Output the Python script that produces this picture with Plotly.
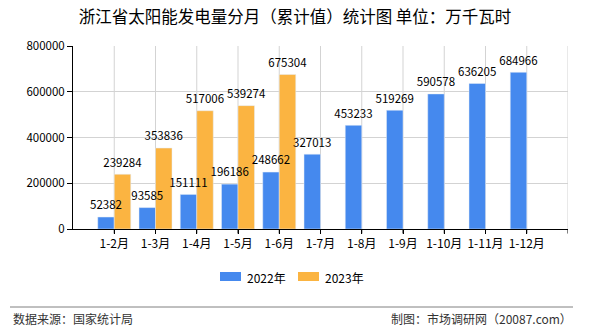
import plotly.graph_objects as go

categories = ["1-2月", "1-3月", "1-4月", "1-5月", "1-6月", "1-7月", "1-8月", "1-9月", "1-10月", "1-11月", "1-12月"]
values_2022 = [52382, 93585, 151111, 196186, 248662, 327013, 453233, 519269, 590578, 636205, 684966]
values_2023 = [239284, 353836, 517006, 539274, 675304]
series_names = ["2022年", "2023年"]
colors = ["#4589EE", "#FBB441"]
y_ticks = [0, 200000, 400000, 600000, 800000]

FONT = "Noto Sans CJK SC, sans-serif"
xpos = list(range(1, len(categories) + 1))
BAR_OFFSET = 0.2  # half of one bar width within group (bargap 0.2, two bars)

fig = go.Figure()
fig.add_trace(go.Bar(x=xpos, y=values_2022, name=series_names[0], marker_color=colors[0],
                     showlegend=False, hoverinfo="skip"))
fig.add_trace(go.Bar(x=xpos[:len(values_2023)], y=values_2023, name=series_names[1], marker_color=colors[1],
                     showlegend=False, hoverinfo="skip"))

# value labels drawn on top of all bars (invisible marker lifts the text slightly)
label_marker = dict(size=6, opacity=0)
fig.add_trace(go.Scatter(x=[x - BAR_OFFSET for x in xpos], y=values_2022, mode="markers+text",
                         marker=label_marker,
                         text=[str(v) for v in values_2022], textposition="top center",
                         textfont=dict(size=11.5, color="#000000", family=FONT),
                         cliponaxis=False, showlegend=False, hoverinfo="skip"))
fig.add_trace(go.Scatter(x=[x + BAR_OFFSET for x in xpos[:len(values_2023)]], y=values_2023, mode="markers+text",
                         marker=label_marker,
                         text=[str(v) for v in values_2023], textposition="top center",
                         textfont=dict(size=11.5, color="#000000", family=FONT),
                         cliponaxis=False, showlegend=False, hoverinfo="skip"))

fig.update_layout(
    width=590, height=330,
    margin=dict(l=73, r=22, t=46, b=101),
    paper_bgcolor="white", plot_bgcolor="white",
    barmode="group", bargap=0.2, bargroupgap=0,
    font=dict(family=FONT, size=11, color="#000000"),
    title=dict(text="浙江省太阳能发电量分月（累计值）统计图 单位：万千瓦时",
               x=0.5, xanchor="center", y=0.948, yanchor="middle",
               font=dict(size=16.5, color="#000000", family=FONT)),
    xaxis=dict(range=[0, len(categories) + 1], tickvals=xpos, ticktext=categories,
               showgrid=False, showline=True, linecolor="#000000", linewidth=1,
               ticks="outside", ticklen=4, tickcolor="#000000",
               tickfont=dict(size=12, family=FONT, color="#000000"), fixedrange=True),
    yaxis=dict(range=[0, 800000], tickvals=y_ticks, ticktext=[str(v) for v in y_ticks],
               showgrid=True, gridcolor="#D3D3D3", gridwidth=1,
               showline=True, linecolor="#000000", linewidth=1,
               ticks="outside", ticklen=5, tickcolor="#000000",
               tickfont=dict(size=11.5, family=FONT, color="#000000"),
               zeroline=False, fixedrange=True),
)

# vertical gridlines between slots (including right edge)
for k in range(1, len(categories) + 2):
    fig.add_shape(type="line", xref="x", yref="paper", x0=k, x1=k, y0=0, y1=1,
                  line=dict(color="#D3D3D3", width=1), layer="below")
    fig.add_shape(type="line", xref="x", yref="paper", x0=k, x1=k, y0=0, y1=-0.025,
                  line=dict(color="#000000", width=1))

# custom legend
legend_items = [(220, series_names[0], colors[0]), (298, series_names[1], colors[1])]
for px, name, col in legend_items:
    fig.add_shape(type="rect", xref="paper", yref="paper",
                  x0=(px - 73) / 495, x1=(px + 21 - 73) / 495,
                  y0=(229 - 281) / 183, y1=(229 - 272) / 183,
                  line=dict(width=0), fillcolor=col)
    fig.add_annotation(xref="paper", yref="paper", x=(px + 25 - 73) / 495, y=(229 - 277) / 183,
                       text=name, showarrow=False, xanchor="left", yanchor="middle",
                       font=dict(size=12, family=FONT, color="#000000"))

# footer separator and texts
fig.add_shape(type="line", xref="paper", yref="paper",
              x0=(10 - 73) / 495, x1=(573 - 73) / 495,
              y0=(229 - 307) / 183, y1=(229 - 307) / 183,
              line=dict(color="#808080", width=1))
fig.add_annotation(xref="paper", yref="paper", x=(11 - 73) / 495, y=(229 - 318) / 183,
                   text="数据来源：国家统计局", showarrow=False, xanchor="left", yanchor="middle",
                   font=dict(size=12, family=FONT, color="#333333"))
fig.add_annotation(xref="paper", yref="paper", x=(574 - 73) / 495, y=(229 - 318) / 183,
                   text="制图：市场调研网（20087.com）", showarrow=False, xanchor="right", yanchor="middle",
                   font=dict(size=12, family=FONT, color="#333333"))

fig.write_html("out.html")
